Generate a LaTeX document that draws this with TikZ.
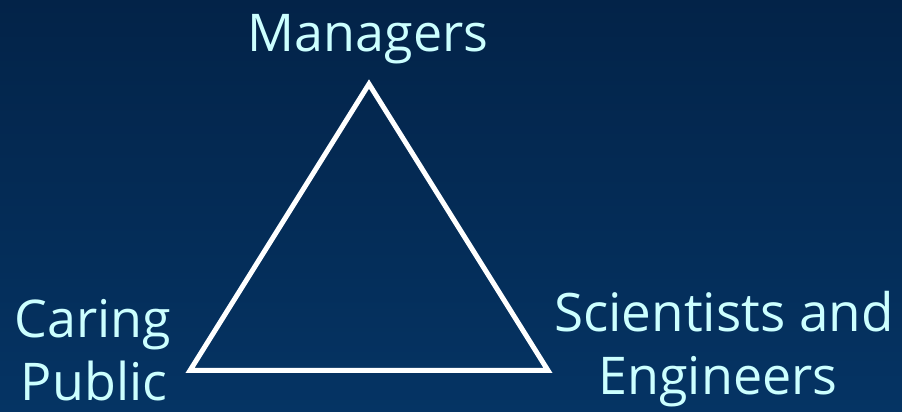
\documentclass[tikz,border=0pt]{standalone}
\usepackage{fontspec}
\setmainfont{Open Sans}
\definecolor{bgtop}{RGB}{3,35,72}
\definecolor{bgbot}{RGB}{5,52,100}
\definecolor{labelcyan}{RGB}{204,255,255}
\begin{document}
\begin{tikzpicture}[x=1pt,y=1pt,
  lbl/.style={text=labelcyan, font=\fontsize{52}{62}\selectfont, inner sep=0pt, anchor=base},
  tri/.style={draw=white, line width=5pt, line join=miter}]
\shade[top color=bgtop, bottom color=bgbot] (0,0) rectangle (902,412);
\useasboundingbox (0,0) rectangle (902,412);
\coordinate (apex) at (369,328);
\coordinate (bl) at (190,41.5);
\coordinate (br) at (548,41.5);
\draw[tri] (apex) -- (bl) -- (br) -- cycle;
\node[lbl] (managers) at (368,360) {Managers};
\node[lbl] (caring) at (93,74) {Caring};
\node[lbl, text depth=0pt] (public) at (94,11) {Public};
\node[lbl, font=\fontsize{53}{62}\selectfont] (sci) at (724,80) {Scientists and};
\node[lbl] (eng) at (718,17) {Engineers};
\end{tikzpicture}
\end{document}
